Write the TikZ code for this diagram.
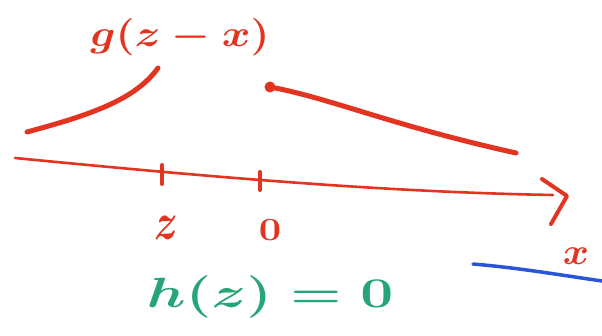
\documentclass[tikz,border=0pt]{standalone}
\usetikzlibrary{calc}
\definecolor{mred}{RGB}{226,52,32}
\definecolor{mgreen}{RGB}{38,165,118}
\definecolor{mblue}{RGB}{40,85,215}
\begin{document}
\begin{tikzpicture}[x=1pt,y=-1pt,
  curve/.style={draw=mred,line width=5pt,line cap=round},
  axis/.style={draw=mred,line width=2.6pt,line cap=round,line join=round},
  tick/.style={draw=mred,line width=4pt,line cap=round},
  redlbl/.style={text=mred,font=\fontsize{38}{38}\selectfont\boldmath,inner sep=0pt},
  greenlbl/.style={text=mgreen,font=\fontsize{44}{44}\selectfont\boldmath,inner sep=0pt}]
\fill[white] (0,0) rectangle (602,336);
\useasboundingbox (0,0) rectangle (602,336);
% label
\node[redlbl,xscale=1.75,yscale=1.5,anchor=base] (glbl) at (180,47) {$g(z-x)$};
% left and right pieces
\draw[curve] (27,132) .. controls (90,115) and (135,100) .. (158,68);
\draw[curve] (270,87) .. controls (330,98) and (390,125) .. (516,153);
\fill[mred] (270,87) circle (5.5pt);
% axis
\coordinate (a0) at (15,158);
\coordinate (a1) at (553,195);
\draw[axis] (a0) .. controls (200,176) and (380,192) .. (a1);
\coordinate (tip) at (567,196);
\draw[axis,line width=4pt] (542,179) -- (tip) -- (551,224);
% ticks
\coordinate (t1) at (162,174);
\coordinate (t2) at (260,181);
\draw[tick] ($(t1)+(0,-9)$) -- ($(t1)+(0,10)$);
\draw[tick] ($(t2)+(0,-9)$) -- ($(t2)+(0,9)$);
% tick labels
\node[redlbl,xscale=1.6,yscale=2.1,anchor=base] (zl) at (166,240) {$z$};
\node[redlbl,font=\fontsize{30}{30}\selectfont\boldmath,xscale=1.6,yscale=1.3,anchor=base] (ol) at (270,241) {$0$};
\node[redlbl,xscale=1.6,yscale=1.5,anchor=base] (xl) at (576,265) {$x$};
% green equation
\node[greenlbl,xscale=2.35,yscale=1.7,anchor=base] (eq) at (270,308) {$h(z)=0$};
% blue line
\draw[draw=mblue,line width=3.5pt,line cap=round] (473,264) .. controls (520,268) and (560,275) .. (602,281);
\end{tikzpicture}
\end{document}
